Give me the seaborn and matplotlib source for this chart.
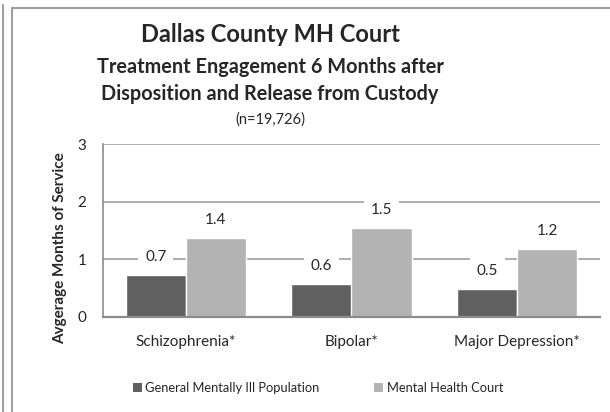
import numpy as np
import pandas as pd
import matplotlib
matplotlib.use("Agg")
import matplotlib.pyplot as plt
from matplotlib.lines import Line2D
from matplotlib.patches import Patch
import seaborn as sns

# chart data
categories = ["Schizophrenia*", "Bipolar*", "Major Depression*"]
groups = ["General Mentally Ill Population", "Mental Health Court"]
general_vals = [0.72, 0.57, 0.48]
court_vals = [1.37, 1.55, 1.18]
general_labels = ["0.7", "0.6", "0.5"]
court_labels = ["1.4", "1.5", "1.2"]
yticks = [0, 1, 2, 3]

colors = ["#606060", "#b3b3b3"]

df = pd.DataFrame({
    "Diagnosis": categories * 2,
    "Group": [groups[0]] * 3 + [groups[1]] * 3,
    "Months": general_vals + court_vals,
})

sns.set_style("white")
plt.rcParams["font.family"] = ["Lato", "DejaVu Sans"]

fig = plt.figure(figsize=(6.1, 4.12), dpi=100)
ax = fig.add_axes([103 / 610, 1 - 317 / 412, 497 / 610, 173 / 412])

sns.barplot(data=df, x="Diagnosis", y="Months", hue="Group", palette=colors,
            width=0.725, saturation=1, ax=ax, legend=False, zorder=2)

ax.set_ylim(0, 3)
ax.set_yticks(yticks)
ax.yaxis.grid(True, color="#a6a6a6", linewidth=1.3, zorder=0)
ax.set_axisbelow(True)
for s in ["top", "right"]:
    ax.spines[s].set_visible(False)
ax.spines["left"].set_color("#8c8c8c")
ax.spines["left"].set_linewidth(1.2)
ax.spines["bottom"].set_color("#8c8c8c")
ax.spines["bottom"].set_linewidth(1.6)
ax.tick_params(axis="y", length=0, labelsize=11, pad=12)
ax.tick_params(axis="x", length=0, labelsize=11, pad=13)
ax.set_xlabel("")
ax.set_ylabel("Avgerage Months of Service", fontsize=11, fontweight="bold")
ax.yaxis.set_label_coords(-0.073, 0.40)

# value labels with white boxes over gridlines
all_labels = general_labels + court_labels
for bar, lab in zip(ax.patches, all_labels):
    x = bar.get_x() + bar.get_width() / 2
    ax.annotate(lab, (x, bar.get_height()), xytext=(0, 13), textcoords="offset points",
                ha="center", va="center", fontsize=11, zorder=3,
                bbox=dict(boxstyle="square,pad=0.45", fc="white", ec="none"))

# titles
fig.text(270 / 610, 1 - 34 / 412, "Dallas County MH Court", ha="center", va="center",
         fontsize=17, fontweight="bold")
fig.text(270 / 610, 1 - 67 / 412, "Treatment Engagement 6 Months after", ha="center",
         va="center", fontsize=14.3, fontweight="bold")
fig.text(270 / 610, 1 - 94 / 412, "Disposition and Release from Custody", ha="center",
         va="center", fontsize=14.3, fontweight="bold")
fig.text(270 / 610, 1 - 120 / 412, "(n=19,726)", ha="center", va="center", fontsize=10.5)

# legend
handles = [Patch(facecolor=c, edgecolor="none") for c in colors]
fig.legend(handles, groups, loc="center", bbox_to_anchor=(318 / 610, 1 - 388 / 412),
           ncol=2, frameon=False, fontsize=9.3, handlelength=0.7, handleheight=0.7,
           handletextpad=0.3, columnspacing=4.2)

# outer frame lines
fig.add_artist(Line2D([3 / 610, 3 / 610], [0, 1 - 5 / 412], color="#a0a0a0", lw=1.5))
fig.add_artist(Line2D([12 / 610, 12 / 610], [0, 1 - 8 / 412], color="#a0a0a0", lw=1.5))
fig.add_artist(Line2D([12 / 610, 1], [1 - 8 / 412, 1 - 8 / 412], color="#a0a0a0", lw=1.5))

fig.savefig("out.png", dpi=100)
